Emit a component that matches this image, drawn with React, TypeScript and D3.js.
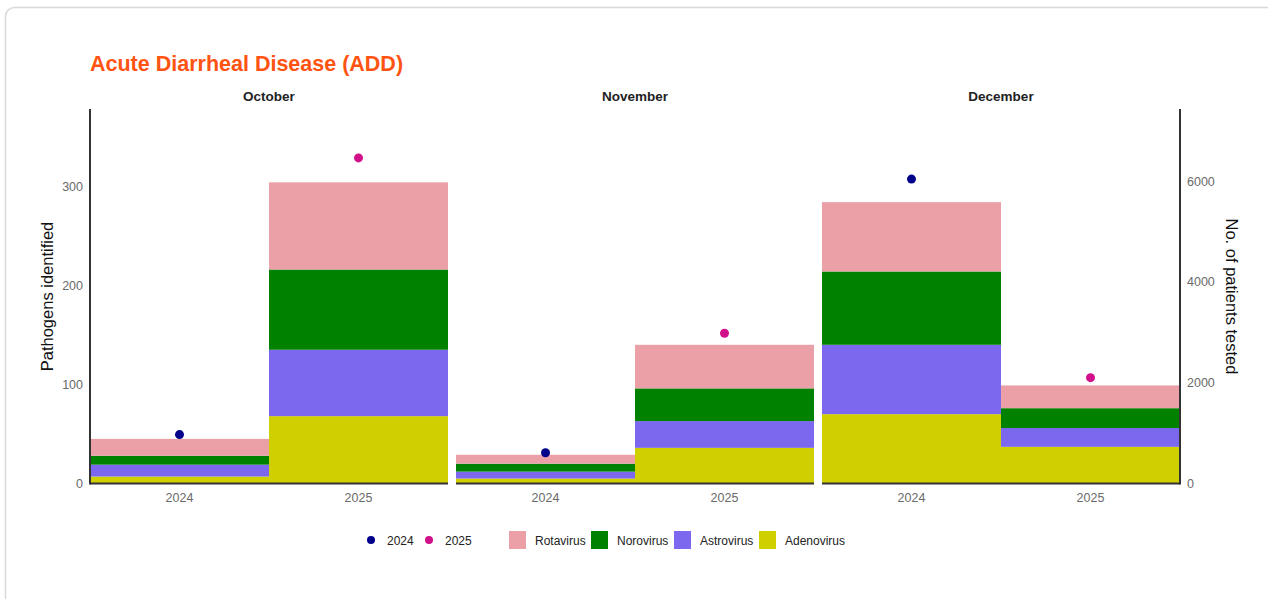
import React from 'react';
import * as d3 from 'd3';

const months = ['October', 'November', 'December'];
const years = ['2024', '2025'];
// values in order: Oct-2024, Oct-2025, Nov-2024, Nov-2025, Dec-2024, Dec-2025
const adenovirus = [7, 68, 5, 36, 70, 37];
const astrovirus = [12, 67, 7, 27, 70, 19];
const norovirus = [9, 81, 8, 33, 74, 20];
const rotavirus = [17, 88, 9, 44, 70, 23];
const patientsTested = [970, 6460, 610, 2980, 6040, 2100];
const leftTicks = [0, 100, 200, 300];
const rightTicks = [0, 2000, 4000, 6000];
const pathogens = ['Adenovirus', 'Astrovirus', 'Norovirus', 'Rotavirus'];
const legendPathogens = ['Rotavirus', 'Norovirus', 'Astrovirus', 'Adenovirus'];

const pathogenColor: Record<string, string> = {
  Rotavirus: '#EBA0A8',
  Norovirus: '#008200',
  Astrovirus: '#7B68EE',
  Adenovirus: '#D0CF00',
};
const yearColor: Record<string, string> = { '2024': '#00008B', '2025': '#D0118A' };

const rows = months.flatMap((m, mi) =>
  years.map((y, yi) => {
    const i = mi * 2 + yi;
    return {
      month: m,
      year: y,
      Adenovirus: adenovirus[i],
      Astrovirus: astrovirus[i],
      Norovirus: norovirus[i],
      Rotavirus: rotavirus[i],
      patients: patientsTested[i],
    };
  })
);

const FONT = '"Liberation Sans", Arial, Helvetica, sans-serif';

export default function App() {
  const W = 1268, H = 599;
  const x0 = 90, x1 = 1180, yTop = 109, yBase = 483.5;
  const panel = d3.scaleBand<string>().domain(months).range([x0, x1]).paddingInner(0.02186).paddingOuter(0);
  const yearScale = d3.scaleBand<string>().domain(years).range([0, panel.bandwidth()]).padding(0);
  const yLeft = d3.scaleLinear().domain([0, 378]).range([yBase, yTop]);
  const yRight = d3.scaleLinear().domain([0, 7430]).range([yBase, yTop]);
  const stack = d3.stack<any>().keys(pathogens);
  const series = stack(rows);

  const tickColor = '#6a6a6a';
  const axisColor = '#333';

  return (
    <svg width={W} height={H} style={{ position: 'absolute', left: 0, top: 0, display: 'block', background: '#fff' }} fontFamily={FONT}>
      <rect x={5.5} y={7.5} width={1290} height={640} rx={9} fill="#fff" stroke="#d9d9d9" strokeWidth={1.5} />
      <text x={90} y={70.5} fontSize={21.5} fontWeight="bold" fill="#FF5312">Acute Diarrheal Disease (ADD)</text>

      {months.map((m) => (
        <text key={m} x={(panel(m) as number) + panel.bandwidth() / 2} y={100.5} textAnchor="middle" fontSize={13.5} fontWeight="bold" fill="#222">{m}</text>
      ))}

      {series.map((s) => (
        <g key={s.key} fill={pathogenColor[s.key]}>
          {s.map((d: any, i: number) => {
            const r = rows[i];
            const px = (panel(r.month) as number) + (yearScale(r.year) as number);
            return <rect key={i} x={px} y={yLeft(d[1])} width={yearScale.bandwidth()} height={yLeft(d[0]) - yLeft(d[1])} />;
          })}
        </g>
      ))}

      {rows.map((r, i) => (
        <circle key={i} cx={(panel(r.month) as number) + (yearScale(r.year) as number) + yearScale.bandwidth() / 2} cy={yRight(r.patients)} r={4.5} fill={yearColor[r.year]} />
      ))}

      {months.map((m) => (
        <line key={m} x1={panel(m) as number} x2={(panel(m) as number) + panel.bandwidth()} y1={yBase} y2={yBase} stroke={axisColor} strokeWidth={2} />
      ))}
      <line x1={x0} x2={x0} y1={yTop} y2={yBase + 1} stroke={axisColor} strokeWidth={2} />
      <line x1={x1} x2={x1} y1={yTop} y2={yBase + 1} stroke={axisColor} strokeWidth={2} />

      {leftTicks.map((t) => (
        <text key={t} x={83} y={yLeft(t) + 4.5} textAnchor="end" fontSize={12.5} fill={tickColor}>{t}</text>
      ))}
      {rightTicks.map((t) => (
        <text key={t} x={1187} y={yRight(t) + 4.5} textAnchor="start" fontSize={12.5} fill={tickColor}>{t}</text>
      ))}
      {months.flatMap((m) =>
        years.map((y) => (
          <text key={m + y} x={(panel(m) as number) + (yearScale(y) as number) + yearScale.bandwidth() / 2} y={502} textAnchor="middle" fontSize={12.5} fill={tickColor}>{y}</text>
        ))
      )}

      <text transform={`translate(53,296.5) rotate(-90)`} textAnchor="middle" fontSize={16.5} fill="#111">Pathogens identified</text>
      <text transform={`translate(1226,296.5) rotate(90)`} textAnchor="middle" fontSize={16.5} fill="#111">No. of patients tested</text>

      {years.map((y, i) => {
        const cx = [371, 429][i];
        return (
          <g key={y}>
            <circle cx={cx} cy={540} r={4} fill={yearColor[y]} />
            <text x={cx + 16} y={544.5} fontSize={12} fill="#222">{y}</text>
          </g>
        );
      })}
      {legendPathogens.map((p, i) => {
        const sx = [509, 591, 674, 759][i];
        return (
          <g key={p}>
            <rect x={sx} y={531} width={17} height={18} fill={pathogenColor[p]} />
            <text x={sx + 26} y={544.5} fontSize={12} fill="#222">{p}</text>
          </g>
        );
      })}
    </svg>
  );
}
